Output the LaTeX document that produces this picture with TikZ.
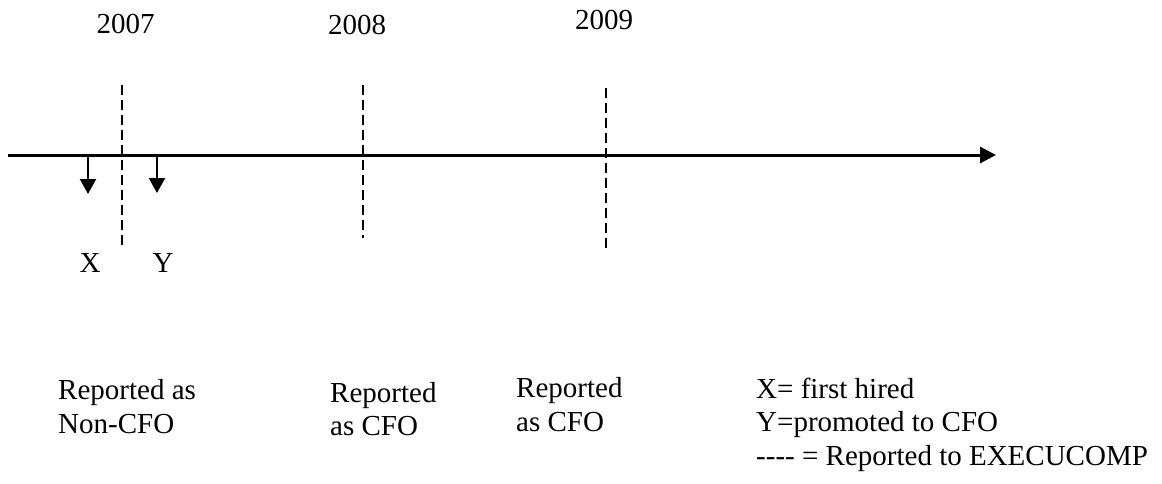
\documentclass[tikz,border=0pt]{standalone}
\usepackage{fontspec}
\setmainfont{Liberation Serif}
\usetikzlibrary{arrows.meta}
\begin{document}
\begin{tikzpicture}[x=1pt,y=-1pt,
  lbl/.style={inner sep=0pt, font=\fontsize{29}{33.5}\selectfont},
  blk/.style={lbl, align=left, anchor=base west},
  axisline/.style={line width=3pt, -{Triangle[length=16pt,width=16pt]}},
  marker/.style={dash pattern=on 10pt off 5pt, line width=2.2pt},
  event/.style={line width=2.2pt, -{Triangle[length=15pt,width=16pt]}}]
\useasboundingbox (0,0) rectangle (1162,483);

% time axis
\coordinate (start) at (8,155);
\coordinate (end) at (996,155);
\draw[axisline] (start) -- (end);

% year labels
\node[lbl] (y2007) at (125.5,23.5) {2007};
\node[lbl] (y2008) at (357,25) {2008};
\node[lbl] (y2009) at (604,20) {2009};

% dashed reporting markers
\coordinate (d1t) at (122,85);  \coordinate (d1b) at (122,248);
\coordinate (d2t) at (363,85);  \coordinate (d2b) at (363,238);
\coordinate (d3t) at (606,88);  \coordinate (d3b) at (606,250);
\draw[marker] (d1t) -- (d1b);
\draw[marker] (d2t) -- (d2b);
\draw[marker] (d3t) -- (d3b);

% events
\coordinate (xs) at (88,155);  \coordinate (xe) at (88,194);
\coordinate (ys) at (157,155); \coordinate (ye) at (157,193);
\draw[event] (xs) -- (xe);
\draw[event] (ys) -- (ye);
\node[lbl] (xl) at (90,263) {X};
\node[lbl] (yl) at (163,263) {Y};

% status notes (anchored at the baseline of their last line)
\node[blk] (n2007) at (58,433) {Reported as\\Non-CFO};
\node[blk] (n2008) at (330,435.5) {Reported\\as CFO};
\node[blk] (n2009) at (516,431) {Reported\\as CFO};

% legend
\node[blk] (legend) at (756,465) {X= first hired\\Y=promoted to CFO\\-{}-{}-{}- = Reported to EXECUCOMP};
\end{tikzpicture}
\end{document}
